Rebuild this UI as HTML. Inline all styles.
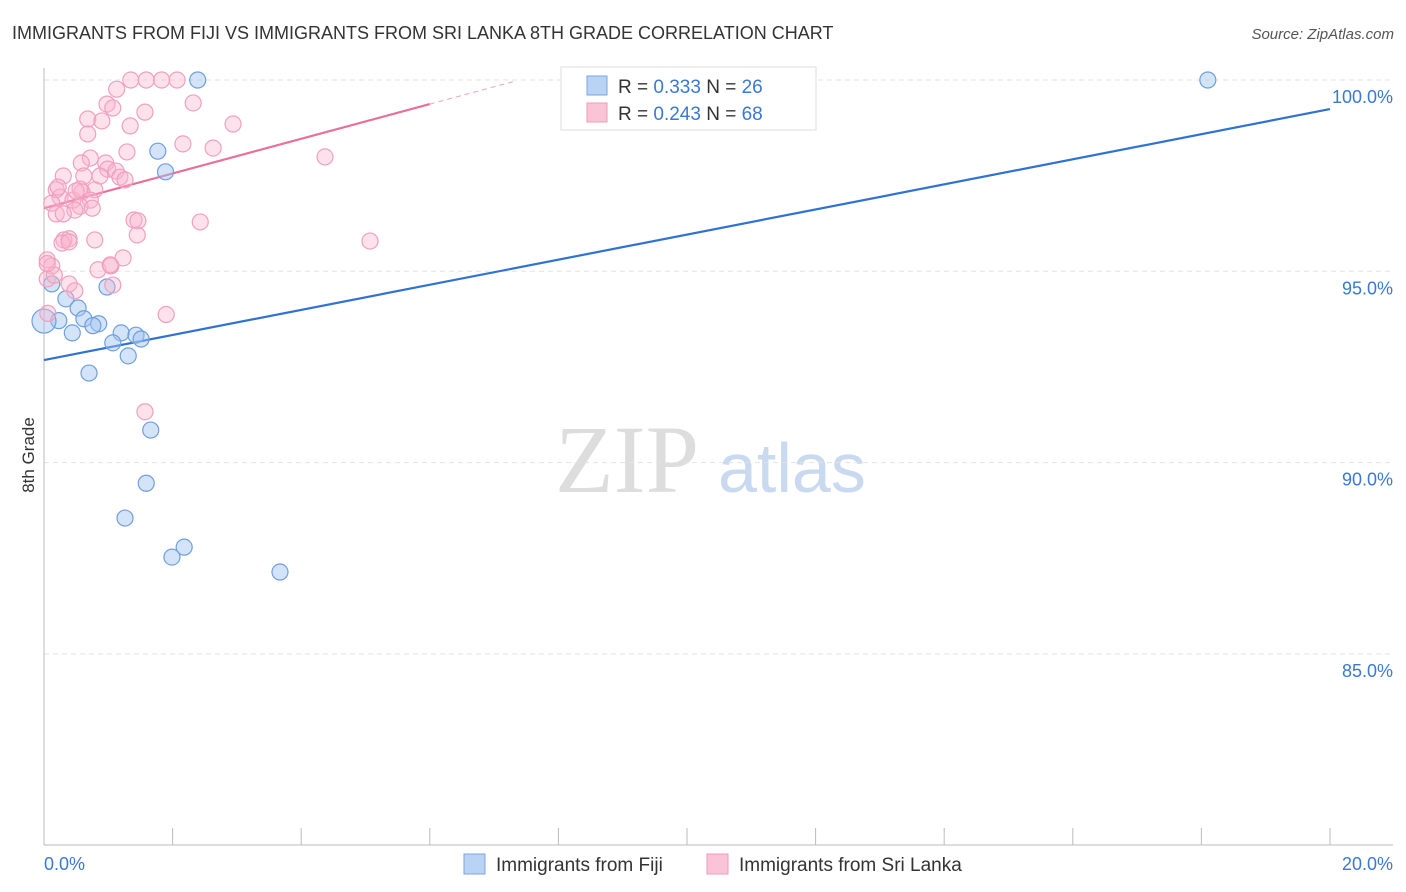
<!DOCTYPE html>
<html><head><meta charset="utf-8"><style>
body{margin:0;background:#fff;font-family:"Liberation Sans",sans-serif;}
svg{display:block}
</style></head><body>
<svg id="chart" width="1406" height="892" xmlns="http://www.w3.org/2000/svg">
<text x="12" y="39" font-size="18" fill="#333">IMMIGRANTS FROM FIJI VS IMMIGRANTS FROM SRI LANKA 8TH GRADE CORRELATION CHART</text>
<text x="1394" y="39" font-size="15" fill="#555" text-anchor="end" font-style="italic">Source: ZipAtlas.com</text>
<text x="34" y="455" font-size="17" fill="#333" text-anchor="middle" transform="rotate(-90 34 455)">8th Grade</text>
<g>
<text x="555" y="492" font-size="96" fill="#ddd" font-family="Liberation Serif,serif">ZIP</text>
<text x="718" y="492" font-size="70" fill="#c9d9ef">atlas</text>
</g>
<g id="grid"></g><g id="axes"></g><g id="lines"></g><g id="pts"></g>
<g>
<rect x="561" y="67" width="255" height="63" fill="#fff" stroke="#ddd"/>
<rect x="587" y="76" width="20" height="19" fill="#b9d3f5" stroke="#7aa6e0"/>
<rect x="587" y="103" width="20" height="19" fill="#fbc4d6" stroke="#f09ab8"/>
<text x="618" y="93" font-size="19" fill="#333">R = <tspan fill="#3a78d6">0.333</tspan>   N = <tspan fill="#3a78d6">26</tspan></text>
<text x="618" y="120" font-size="19" fill="#333">R = <tspan fill="#3a78d6">0.243</tspan>   N = <tspan fill="#3a78d6">68</tspan></text>
</g>
<g>
<rect x="464" y="854" width="21" height="20" fill="#b9d3f5" stroke="#7aa6e0"/>
<text x="496" y="871" font-size="19" fill="#333">Immigrants from Fiji</text>
<rect x="707" y="854" width="21" height="20" fill="#fbc4d6" stroke="#f09ab8"/>
<text x="739" y="871" font-size="19" fill="#333">Immigrants from Sri Lanka</text>
</g>
</svg>
<script>
const yTicks=[100,95,90,85];
const yTickLabels=["100.0%","95.0%","90.0%","85.0%"];
const xTickVals=[0,2,4,6,8,10,12,14,16,18,20];
const fijiX=[2.39,18.1,1.77,1.89,0.12,0.34,0.53,0.98,0.62,0.23,0.85,0.76,0.44,1.2,1.43,1.51,1.07,1.31,0.0,0.7,1.66,1.59,1.26,2.18,1.99,3.67];
const fijiY=[100,100,98.14,97.6,94.67,94.28,94.04,94.59,93.76,93.71,93.63,93.58,93.39,93.39,93.33,93.23,93.13,92.79,93.7,92.34,90.85,89.46,88.55,87.79,87.53,87.14];
const slX=[1.35,1.59,1.83,2.07,1.13,0.98,1.07,1.57,2.32,0.68,0.9,1.34,0.68,2.94,2.16,1.29,2.63,4.37,0.72,0.58,0.96,0.99,1.12,1.18,0.3,0.62,0.87,1.26,0.19,0.79,0.59,0.25,0.45,0.72,0.12,0.56,0.75,0.48,0.19,1.4,1.46,2.43,1.45,0.39,0.31,0.79,0.28,5.07,0.39,0.05,1.23,0.12,0.84,1.04,1.07,0.39,0.48,0.05,1.9,1.57,0.16,0.05,1.03,0.56,0.22,0.06,0.3,0.5];
const slY=[100,100,100,100,99.76,99.37,99.27,99.16,99.4,98.98,98.93,98.8,98.59,98.85,98.33,98.12,98.22,97.99,97.96,97.83,97.83,97.67,97.62,97.46,97.49,97.49,97.49,97.39,97.13,97.13,97.07,96.94,96.86,96.86,96.78,96.7,96.65,96.6,96.5,96.34,96.32,96.29,95.95,95.85,95.82,95.82,95.74,95.79,95.77,95.3,95.35,95.14,95.04,95.14,94.64,94.67,94.49,94.8,93.87,91.33,94.9,95.2,95.17,97.15,97.2,93.9,96.5,97.1];
const fijiFit=[92.68,99.24], slFit=[96.65,99.37];
const X=v=>44+v*64.3, Y=v=>80+(100-v)*38.26;
const NS="http://www.w3.org/2000/svg";
function mk(tag,attrs,parent){const e=document.createElementNS(NS,tag);for(const k in attrs)e.setAttribute(k,attrs[k]);document.getElementById(parent).appendChild(e);return e;}
yTicks.forEach((t,i)=>{
 const l=mk('line',{x1:44,x2:1393,y1:Y(t),y2:Y(t),stroke:'#e3e3e3','stroke-dasharray':'5,4'},'grid');
 
 
 const tx=mk('text',{x:1393,y:Y(t)+23,'font-size':18,fill:'#3a78d6','text-anchor':'end'},'grid');
 tx.textContent=yTickLabels[i];
 
 
});
const ax=mk('line',{x1:44,x2:1393,y1:845,y2:845,stroke:'#bbb'},'axes');


const ay=mk('line',{x1:44,x2:44,y1:68,y2:845,stroke:'#bbb'},'axes');


xTickVals.forEach(v=>{const t=mk('line',{x1:X(v),x2:X(v),y1:828,y2:845,stroke:'#bbb'},'axes');
 
 });
const xl0=mk('text',{x:44,y:870,'font-size':18,fill:'#3a78d6'},'axes');xl0.textContent='0.0%';


const xl1=mk('text',{x:1393,y:870,'font-size':18,fill:'#3a78d6','text-anchor':'end'},'axes');xl1.textContent='20.0%';


fijiX.forEach((x,i)=>{const c=mk('circle',{cx:X(x),cy:Y(fijiY[i]),r:(x===0?12:8),fill:'rgba(160,195,240,0.45)',stroke:'#6f9fe0','stroke-width':1.2},'pts');
 
 });
slX.forEach((x,i)=>{const c=mk('circle',{cx:X(x),cy:Y(slY[i]),r:8,fill:'rgba(250,180,205,0.4)',stroke:'#f0a0bd','stroke-width':1.2},'pts');
 
 });
const bl=mk('line',{x1:X(0),y1:Y(fijiFit[0]),x2:X(20),y2:Y(fijiFit[1]),stroke:'#2f72d4','stroke-width':2.2},'lines');


const pl=mk('line',{x1:X(0),y1:Y(slFit[0]),x2:X(6),y2:Y(slFit[1]),stroke:'#e8709a','stroke-width':2.2},'lines');


const sl=(slFit[1]-slFit[0])/6;
const pd=mk('line',{x1:X(6),y1:Y(slFit[1]),x2:X(7.3),y2:Y(slFit[0]+sl*7.3),stroke:'#f0a0bd','stroke-width':1,'stroke-dasharray':'5,4'},'lines');


</script>
</body></html>
